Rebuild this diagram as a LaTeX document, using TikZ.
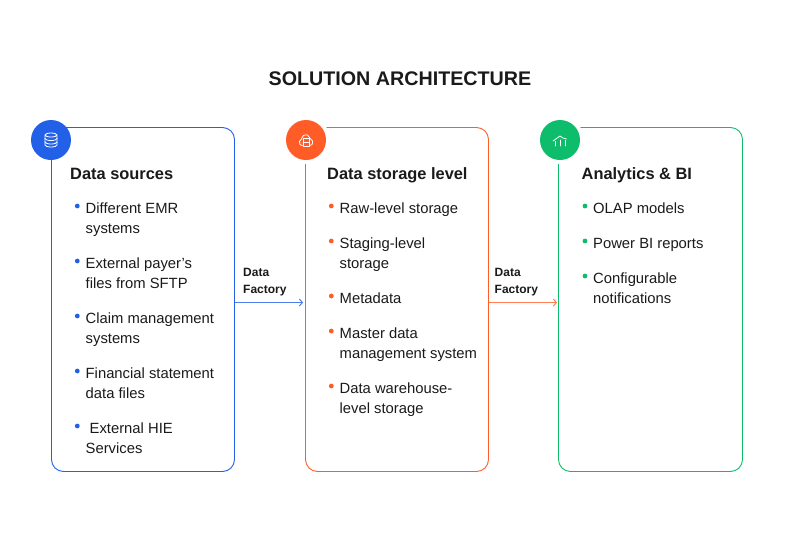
\documentclass[tikz,border=0pt]{standalone}
\usepackage{fontspec}
\setmainfont{Liberation Sans}
\usetikzlibrary{arrows.meta}

\definecolor{srcblue}{HTML}{2360E8}
\definecolor{srclight}{HTML}{4F7FEC}
\definecolor{storeorange}{HTML}{FF5C28}
\definecolor{storelight}{HTML}{FF7E54}
\definecolor{bigreen}{HTML}{0DBD6C}
\definecolor{inktext}{HTML}{1A1A1A}

\tikzset{
    panel/.style={draw=#1,line width=0.9pt,rounded corners=12pt,minimum height=344pt,inner sep=0pt},
    badge/.style={circle,fill=#1,minimum size=40pt,inner sep=0pt},
    ring/.style={circle,fill=white,minimum size=48pt,inner sep=0pt},
    heading/.style={anchor=base west,inner sep=0pt,text=inktext,font=\fontsize{16.4}{20}\selectfont\bfseries},
    item/.style={anchor=north west,inner sep=0pt,align=left,text=inktext,font=\fontsize{14.8}{20}\selectfont},
    flowlabel/.style={anchor=north west,inner sep=0pt,align=left,text=inktext,font=\fontsize{12}{17}\selectfont\bfseries},
    icon/.style={draw=white,line width=0.8pt,line cap=round,line join=round},
}

\begin{document}
\begin{tikzpicture}[x=1pt,y=-1pt]
    \useasboundingbox (0,0) rectangle (800,533);
    \node[inner sep=0pt,text=inktext,font=\fontsize{19.7}{24}\selectfont\bfseries] (title) at (400,78.5) {SOLUTION ARCHITECTURE};

    %panels
    \node[panel=srcblue,minimum width=183pt] (sources) at (143,299.5) {};
    \node[panel=storeorange,minimum width=183pt] (storage) at (397,299.5) {};
    \node[panel=bigreen,minimum width=184pt] (analytics) at (650.5,299.5) {};

    %badges, the white ring cuts the frame open
    \node[ring] (ringb) at (306,140) {};
    \node[ring] (ringc) at (560,140) {};
    \node[badge=srcblue] (bada) at (51,140) {};
    \node[badge=storeorange] (badb) at (306,140) {};
    \node[badge=bigreen] (badc) at (560,140) {};

    %icons
    \draw[icon] (bada) ++(-6,-5) arc (180:360:6 and -2) arc (0:180:6 and -2) -- ++(0,10) arc (180:360:6 and -2) -- ++(0,-10);
    \draw[icon] (bada) ++(-6,-1.5) arc (180:360:6 and -2);
    \draw[icon] (bada) ++(-6,2) arc (180:360:6 and -2);
    \draw[icon,shift={(badb)}] plot[smooth] coordinates {(-3.5,5.5) (-6,4.5) (-6.5,1.5) (-4.5,-1) (-2.5,-4.5) (1.5,-5) (4,-1.5) (6.5,1) (6,4.5) (3.5,5.5)};
    \draw[icon,shift={(badb)}] (-3,-1.5) rectangle (3,6);
    \draw[icon,shift={(badb)}] (-3,2.2) -- (3,2.2);
    \draw[icon,shift={(badc)}] (-7,1) -- (0,-4) -- (3,-2) -- (6.5,-1);
    \foreach \bx/\by in {-5/1.5, 0/0, 5/0.5} {
        \draw[icon,shift={(badc)}] (\bx,\by) -- (\bx,6);
    }

    %headings
    \node[heading] (heada) at (70,179.5) {Data sources};
    \node[heading] (headb) at (327,179.5) {Data storage level};
    \node[heading] (headc) at (581.5,179.5) {Analytics \& BI};

    %items, top of text / text
    \foreach \n/\ty/\txt in {1/199/{Different EMR\\systems},2/254/{External payer’s\\files from SFTP},3/309/{Claim management\\systems},4/364/{Financial statement\\data files},5/419/{\hspace*{4pt}External HIE\\Services}} {
        \node[item] (a\n) at (85.5,\ty) {\strut\txt};
        \fill[srcblue] (77.3,\ty+7) circle (2.4);
    }
    \foreach \n/\ty/\txt in {1/199/{Raw-level storage},2/234/{Staging-level\\storage},3/289/{Metadata},4/324/{Master data\\management system},5/379/{Data warehouse-\\level storage}} {
        \node[item] (b\n) at (339.5,\ty) {\strut\txt};
        \fill[storeorange] (331.3,\ty+7) circle (2.4);
    }
    \foreach \n/\ty/\txt in {1/199/{OLAP models},2/234/{Power BI reports},3/269/{Configurable\\notifications}} {
        \node[item] (c\n) at (593,\ty) {\strut\txt};
        \fill[bigreen] (585,\ty+7) circle (2.4);
    }

    %flows
    \node[flowlabel] (flowa) at (243,264.5) {\strut Data\\Factory};
    \node[flowlabel] (flowb) at (494.5,264.5) {\strut Data\\Factory};
    \draw[srclight,line width=1pt,-{Straight Barb[length=3pt,width=7pt]}] ([yshift=-3pt]sources.east) -- ([yshift=-3pt,xshift=-2pt]storage.west);
    \draw[storelight,line width=1pt,-{Straight Barb[length=3pt,width=7pt]}] ([yshift=-3pt]storage.east) -- ([yshift=-3pt,xshift=-1pt]analytics.west);
\end{tikzpicture}
\end{document}
